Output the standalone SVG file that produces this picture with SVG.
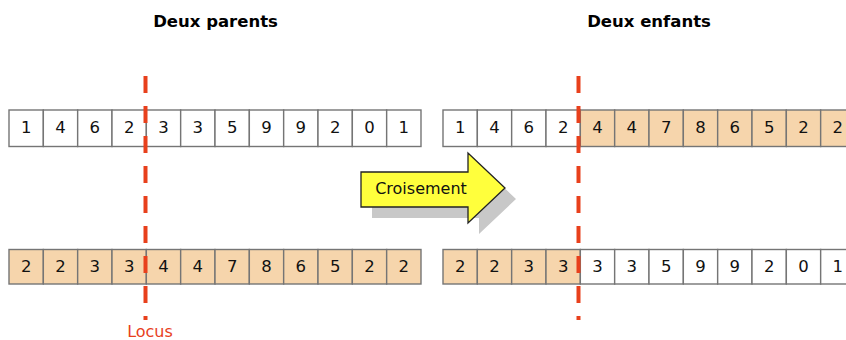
<svg xmlns="http://www.w3.org/2000/svg" width="846" height="340" viewBox="0 0 846 340">
<style>
.c{stroke:#757575;stroke-width:1.4}
.w{fill:#ffffff}
.p{fill:#F6D5AC}
.d{font-family:"DejaVu Sans",Verdana,sans-serif;font-size:16.5px;fill:#111;text-anchor:middle}
.t{font-family:"DejaVu Sans",Verdana,sans-serif;font-size:16.5px;font-weight:bold;fill:#000;text-anchor:middle}
.loc{stroke:#E8401C;stroke-width:4;stroke-dasharray:17 13;fill:none}
</style>
<rect width="846" height="340" fill="#ffffff"/>
<text class="t" x="215.5" y="27">Deux parents</text>
<text class="t" x="649" y="27">Deux enfants</text>

<g id="parent1">
<rect class="c w" x="9" y="110" width="34.33" height="36.5"/>
<rect class="c w" x="43.33" y="110" width="34.33" height="36.5"/>
<rect class="c w" x="77.66" y="110" width="34.33" height="36.5"/>
<rect class="c w" x="112" y="110" width="34.33" height="36.5"/>
<rect class="c w" x="146.33" y="110" width="34.33" height="36.5"/>
<rect class="c w" x="180.66" y="110" width="34.33" height="36.5"/>
<rect class="c w" x="215" y="110" width="34.33" height="36.5"/>
<rect class="c w" x="249.33" y="110" width="34.33" height="36.5"/>
<rect class="c w" x="283.66" y="110" width="34.33" height="36.5"/>
<rect class="c w" x="318" y="110" width="34.33" height="36.5"/>
<rect class="c w" x="352.33" y="110" width="34.33" height="36.5"/>
<rect class="c w" x="386.66" y="110" width="34.33" height="36.5"/>
<text class="d" y="132.5"><tspan x="26.2">1</tspan><tspan x="60.5">4</tspan><tspan x="94.8">6</tspan><tspan x="129.2">2</tspan><tspan x="163.5">3</tspan><tspan x="197.8">3</tspan><tspan x="232.2">5</tspan><tspan x="266.5">9</tspan><tspan x="300.8">9</tspan><tspan x="335.2">2</tspan><tspan x="369.5">0</tspan><tspan x="403.8">1</tspan></text>
</g>

<g id="parent2">
<rect class="c p" x="9" y="249.5" width="34.33" height="34.5"/>
<rect class="c p" x="43.33" y="249.5" width="34.33" height="34.5"/>
<rect class="c p" x="77.66" y="249.5" width="34.33" height="34.5"/>
<rect class="c p" x="112" y="249.5" width="34.33" height="34.5"/>
<rect class="c p" x="146.33" y="249.5" width="34.33" height="34.5"/>
<rect class="c p" x="180.66" y="249.5" width="34.33" height="34.5"/>
<rect class="c p" x="215" y="249.5" width="34.33" height="34.5"/>
<rect class="c p" x="249.33" y="249.5" width="34.33" height="34.5"/>
<rect class="c p" x="283.66" y="249.5" width="34.33" height="34.5"/>
<rect class="c p" x="318" y="249.5" width="34.33" height="34.5"/>
<rect class="c p" x="352.33" y="249.5" width="34.33" height="34.5"/>
<rect class="c p" x="386.66" y="249.5" width="34.33" height="34.5"/>
<text class="d" y="272"><tspan x="26.2">2</tspan><tspan x="60.5">2</tspan><tspan x="94.8">3</tspan><tspan x="129.2">3</tspan><tspan x="163.5">4</tspan><tspan x="197.8">4</tspan><tspan x="232.2">7</tspan><tspan x="266.5">8</tspan><tspan x="300.8">6</tspan><tspan x="335.2">5</tspan><tspan x="369.5">2</tspan><tspan x="403.8">2</tspan></text>
</g>

<g id="child1">
<rect class="c w" x="443" y="110" width="34.33" height="36.5"/>
<rect class="c w" x="477.33" y="110" width="34.33" height="36.5"/>
<rect class="c w" x="511.66" y="110" width="34.33" height="36.5"/>
<rect class="c w" x="546" y="110" width="34.33" height="36.5"/>
<rect class="c p" x="580.33" y="110" width="34.33" height="36.5"/>
<rect class="c p" x="614.66" y="110" width="34.33" height="36.5"/>
<rect class="c p" x="649" y="110" width="34.33" height="36.5"/>
<rect class="c p" x="683.33" y="110" width="34.33" height="36.5"/>
<rect class="c p" x="717.66" y="110" width="34.33" height="36.5"/>
<rect class="c p" x="752" y="110" width="34.33" height="36.5"/>
<rect class="c p" x="786.33" y="110" width="34.33" height="36.5"/>
<rect class="c p" x="820.66" y="110" width="34.33" height="36.5"/>
<text class="d" y="132.5"><tspan x="460.2">1</tspan><tspan x="494.5">4</tspan><tspan x="528.8">6</tspan><tspan x="563.2">2</tspan><tspan x="597.5">4</tspan><tspan x="631.8">4</tspan><tspan x="666.2">7</tspan><tspan x="700.5">8</tspan><tspan x="734.8">6</tspan><tspan x="769.2">5</tspan><tspan x="803.5">2</tspan><tspan x="837.8">2</tspan></text>
</g>

<g id="child2">
<rect class="c p" x="443" y="249.5" width="34.33" height="34.5"/>
<rect class="c p" x="477.33" y="249.5" width="34.33" height="34.5"/>
<rect class="c p" x="511.66" y="249.5" width="34.33" height="34.5"/>
<rect class="c p" x="546" y="249.5" width="34.33" height="34.5"/>
<rect class="c w" x="580.33" y="249.5" width="34.33" height="34.5"/>
<rect class="c w" x="614.66" y="249.5" width="34.33" height="34.5"/>
<rect class="c w" x="649" y="249.5" width="34.33" height="34.5"/>
<rect class="c w" x="683.33" y="249.5" width="34.33" height="34.5"/>
<rect class="c w" x="717.66" y="249.5" width="34.33" height="34.5"/>
<rect class="c w" x="752" y="249.5" width="34.33" height="34.5"/>
<rect class="c w" x="786.33" y="249.5" width="34.33" height="34.5"/>
<rect class="c w" x="820.66" y="249.5" width="34.33" height="34.5"/>
<text class="d" y="272"><tspan x="460.2">2</tspan><tspan x="494.5">2</tspan><tspan x="528.8">3</tspan><tspan x="563.2">3</tspan><tspan x="597.5">3</tspan><tspan x="631.8">3</tspan><tspan x="666.2">5</tspan><tspan x="700.5">9</tspan><tspan x="734.8">9</tspan><tspan x="769.2">2</tspan><tspan x="803.5">0</tspan><tspan x="837.8">1</tspan></text>
</g>

<g id="connectors">
<line class="loc" x1="145.5" y1="76" x2="145.5" y2="320"/>
<line class="loc" x1="578.5" y1="76" x2="578.5" y2="320"/>
</g>

<g id="locus">
<text x="150" y="337" font-family="DejaVu Sans,Verdana,sans-serif" font-size="16" fill="#E8401C" text-anchor="middle">Locus</text>
</g>

<g id="croisement">
<polygon points="372,183 479,183 479,164 516,199 479,234 479,218 372,218" fill="#C8C8C8"/>
<polygon points="361,172 468,172 468,153 505,188 468,223 468,207 361,207" fill="#FFFF3C" stroke="#222" stroke-width="1.3"/>
<text x="421" y="194" font-family="DejaVu Sans,Verdana,sans-serif" font-size="16" fill="#111" text-anchor="middle">Croisement</text>
</g>
</svg>
